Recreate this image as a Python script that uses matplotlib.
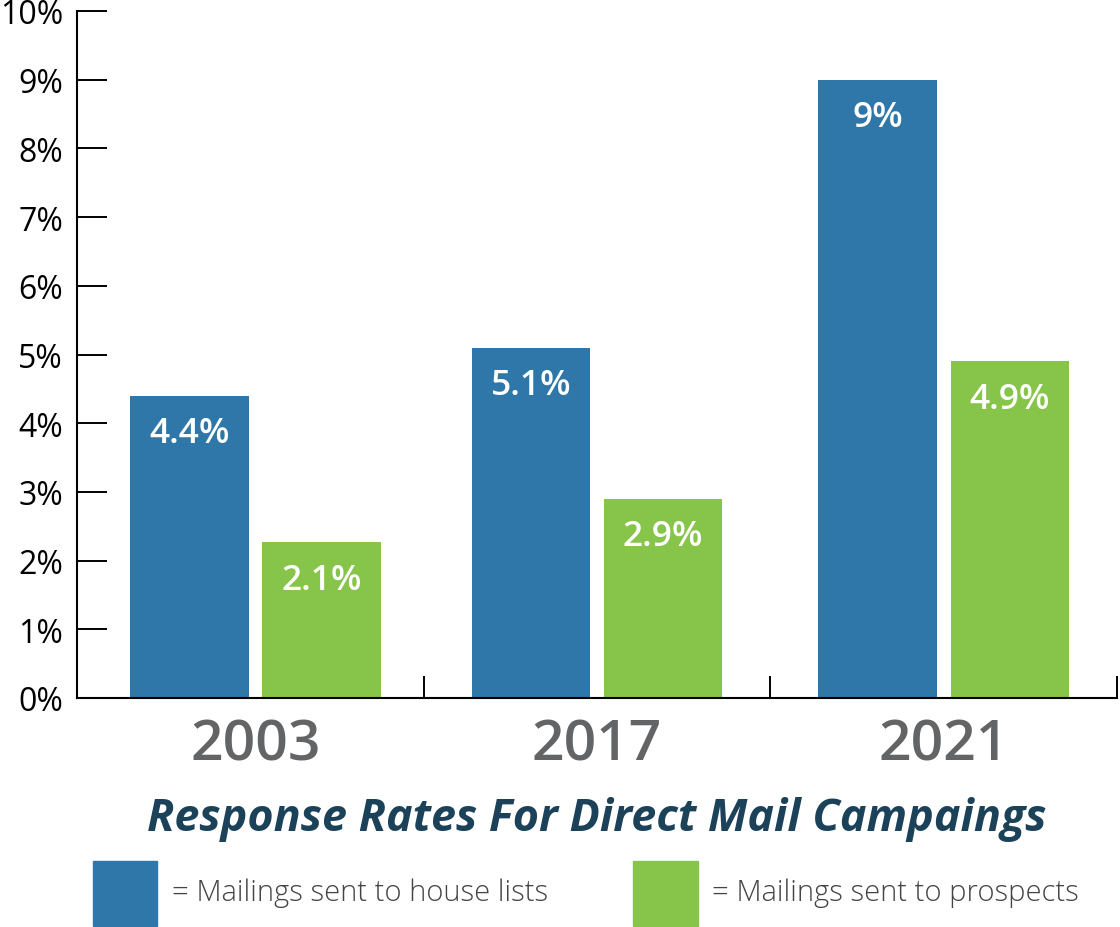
import matplotlib.pyplot as plt
from matplotlib.patches import Rectangle
import numpy as np

# data
years = ["2003", "2017", "2021"]
house_lists = [4.4, 5.1, 9.0]
prospects = [2.27, 2.9, 4.9]
house_labels = ["4.4%", "5.1%", "9%"]
prospect_labels = ["2.1%", "2.9%", "4.9%"]
y_ticks = list(range(0, 11))

blue = "#2e77a8"
green = "#86c44a"
title_color = "#1b4259"
year_color = "#636466"

plt.rcParams['font.family'] = ["Open Sans", "DejaVu Sans"]

fig = plt.figure(figsize=(11.2, 9.28), dpi=100)
ax = fig.add_axes([77 / 1120, 229 / 928, 1040 / 1120, 687 / 928])

# group centres (the first group sits slightly right of its slot in the original)
x = np.array([0.515, 1.5, 2.5])
w = 0.342
off = 0.191
b1 = ax.bar(x - off, house_lists, w, color=blue)
b2 = ax.bar(x + off, prospects, w, color=green)

# labels inside the bars, near the top
for bars, labels in ((b1, house_labels), (b2, prospect_labels)):
    for rect, lab in zip(bars, labels):
        ax.annotate(lab, (rect.get_x() + rect.get_width() / 2, rect.get_height()),
                    xytext=(0, -27), textcoords="offset points",
                    ha="center", va="center", color="white",
                    fontsize=25.5, fontweight="semibold")

ax.set_xlim(0, 3)
ax.set_ylim(0, 10)
ax.set_yticks(y_ticks)
ax.set_yticklabels([f"{t}%" for t in y_ticks])
ax.tick_params(axis="y", direction="in", length=21.5, width=1.4,
               labelsize=23, pad=10, colors="black")

# year labels centered under the groups, separator ticks between them
ax.set_xticks(x)
ax.set_xticklabels(years)
ax.tick_params(axis="x", which="major", length=0, labelsize=41,
               labelcolor=year_color, pad=14)
for lab in ax.get_xticklabels():
    lab.set_fontweight("semibold")
ax.set_xticks([1, 2, 3], minor=True)
ax.tick_params(axis="x", which="minor", direction="in", length=16, width=1.4)

for s in ("top", "right"):
    ax.spines[s].set_visible(False)
for s in ("left", "bottom"):
    ax.spines[s].set_linewidth(1.5)

fig.text(597 / 1120, 1 - 820 / 928, "Response Rates For Direct Mail Campaings",
         ha="center", va="center", fontsize=32.3, fontweight="bold",
         fontstyle="italic", color=title_color)

# legend boxes
fig.patches.append(Rectangle((93 / 1120, 1 / 928), 64 / 1120, 65 / 928,
                             transform=fig.transFigure, color=blue))
fig.patches.append(Rectangle((633 / 1120, 1 / 928), 65 / 1120, 65 / 928,
                             transform=fig.transFigure, color=green))
fig.text(172 / 1120, 35 / 928, "= Mailings sent to house lists",
         ha="left", va="center", fontsize=21, fontweight="light", color="#444444")
fig.text(712 / 1120, 35 / 928, "= Mailings sent to prospects",
         ha="left", va="center", fontsize=21, fontweight="light", color="#444444")

fig.savefig("out.png", dpi=100)
